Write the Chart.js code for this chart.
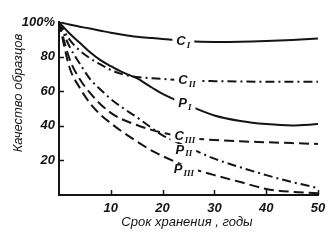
<!DOCTYPE html>
<html>
<head>
<meta charset="utf-8">
<script src="https://cdn.jsdelivr.net/npm/chart.js@4.4.0/dist/chart.umd.min.js"></script>
<style>
  html, body { margin: 0; padding: 0; background: #fff; }
</style>
</head>
<body>
<canvas id="chart" width="334" height="240"></canvas>
<script>
// Срок хранения, годы
const years = [0, 2, 4, 6, 8, 10, 12, 15, 18, 20, 25, 30, 35, 40, 45, 50];

// Качество образцов, %
const cI   = [100, 98.5, 97.3, 96.2, 95, 93.8, 92.8, 91.5, 90.7, 90.2, 88.9, 88.5, 88.6, 89, 89.6, 90.4];
const cII  = [100, 90, 83.5, 79, 75.5, 72.3, 70, 68.2, 67.5, 67.1, 66.2, 65.8, 65.6, 65.5, 65.5, 65.5];
const pI   = [100, 93.5, 88, 82.5, 78, 74.5, 71.3, 67.5, 62, 58.5, 51.8, 46, 42.8, 41, 40.2, 41];
const cIII = [100, 79, 67, 59, 52.5, 47.5, 44, 40.5, 37.5, 36, 33, 31.8, 31, 30.5, 30, 29.5];
const pII  = [100, 86, 76, 67, 61, 55.5, 51, 45, 38.5, 34.5, 27.5, 21, 16, 11.5, 7.5, 4];
const pIII = [100, 74, 62, 53, 46.5, 41.5, 37, 31, 25.5, 22.5, 16, 11.5, 7.5, 3.5, 1.8, 1];

const xTicks = [10, 20, 30, 40, 50];
const yTicks = [20, 40, 60, 80, 100];
const yTickLabels = ['20', '40', '60', '80', '100%'];

const xTitle = 'Срок хранения , годы';
const yTitle = 'Качество образцов';

// подписи кривых: буква, индекс, точка (год, %)
const curveLetters = ['C', 'C', 'P', 'C', 'P', 'P'];
const curveIndex = ['I', 'II', 'I', 'III', 'II', 'III'];
const labelYears = [24, 24.7, 24.3, 24.3, 24.1, 24.1];
const labelValues = [88.7, 66, 52.7, 34, 26, 14.5];

const INK = '#141414';
const solid = [];
const dashDot = [9, 4, 2, 4];
const longDash = [10, 5];

function series(values, dash) {
    return {
        data: years.map((x, i) => ({ x: x, y: values[i] })),
        borderColor: INK,
        borderWidth: 2,
        borderDash: dash,
        pointRadius: 0,
        cubicInterpolationMode: 'monotone',
        fill: false
    };
}

const tickFont = { family: "'Liberation Sans Narrow', 'Liberation Sans'", style: 'italic', weight: 'bold', size: 13 };

// Засечки внутрь, подписи кривых и названия осей
const extras = {
    id: 'extras',
    afterDatasetsDraw(chart) {
        const { ctx, chartArea, scales: { x, y } } = chart;
        ctx.save();
        ctx.strokeStyle = INK;
        ctx.lineWidth = 1.5;
        xTicks.forEach(v => {
            const px = Math.round(x.getPixelForValue(v)) + 0.5;
            ctx.beginPath();
            ctx.moveTo(px, chartArea.bottom);
            ctx.lineTo(px, chartArea.bottom - 5);
            ctx.stroke();
        });
        yTicks.filter(v => v < 100).forEach(v => {
            const py = Math.round(y.getPixelForValue(v)) + 0.5;
            ctx.beginPath();
            ctx.moveTo(chartArea.left, py);
            ctx.lineTo(chartArea.left + 5, py);
            ctx.stroke();
        });

        // подписи кривых
        ctx.textBaseline = 'middle';
        curveLetters.forEach((letter, i) => {
            const px = x.getPixelForValue(labelYears[i]);
            const py = y.getPixelForValue(labelValues[i]);
            ctx.font = "italic bold 13px 'Liberation Sans Narrow', 'Liberation Sans'";
            const w1 = ctx.measureText(letter).width;
            ctx.font = "italic bold 9px 'Liberation Serif', serif";
            const w2 = ctx.measureText(curveIndex[i]).width;
            const w = w1 + w2 + 1;
            ctx.fillStyle = '#fff';
            ctx.fillRect(px - w / 2 - 4, py - 6, w + 8, 12);
            ctx.fillStyle = INK;
            ctx.textAlign = 'left';
            ctx.font = "italic bold 13px 'Liberation Sans Narrow', 'Liberation Sans'";
            ctx.fillText(letter, px - w / 2, py);
            ctx.font = "italic bold 9px 'Liberation Serif', serif";
            ctx.fillText(curveIndex[i], px - w / 2 + w1 + 1, py + 4);
        });

        // названия осей
        ctx.font = "italic 13px 'Liberation Sans Narrow', 'Liberation Sans'";
        ctx.textAlign = 'center';
        ctx.fillText(xTitle, 187, 222);
        ctx.translate(18, 93);
        ctx.rotate(-Math.PI / 2);
        ctx.fillText(yTitle, 0, 0);
        ctx.restore();
    }
};

new Chart(document.getElementById('chart'), {
    type: 'line',
    data: {
        datasets: [
            series(cI, solid),
            series(cII, dashDot),
            series(pI, solid),
            series(cIII, longDash),
            series(pII, dashDot),
            series(pIII, longDash)
        ]
    },
    options: {
        responsive: false,
        animation: false,
        events: [],
        layout: { padding: { top: 22, right: 16, left: 0, bottom: 0 } },
        plugins: { legend: { display: false }, tooltip: { enabled: false } },
        scales: {
            x: {
                type: 'linear',
                min: 0,
                max: 50,
                afterFit: s => { s.height = 45; },
                afterBuildTicks: s => { s.ticks = xTicks.map(v => ({ value: v })); },
                grid: { display: false, drawTicks: false },
                border: { display: true, color: INK, width: 2 },
                ticks: {
                    color: INK,
                    font: tickFont,
                    padding: 6,
                    maxRotation: 0,
                    autoSkip: false,
                    callback: v => String(v)
                }
            },
            y: {
                type: 'linear',
                min: 0,
                max: 100,
                afterFit: s => { s.width = 59; },
                afterBuildTicks: s => { s.ticks = yTicks.map(v => ({ value: v })); },
                grid: { display: false, drawTicks: false },
                border: { display: true, color: INK, width: 2 },
                ticks: {
                    color: INK,
                    font: tickFont,
                    padding: 4,
                    autoSkip: false,
                    callback: v => yTickLabels[yTicks.indexOf(v)]
                }
            }
        }
    },
    plugins: [extras]
});
</script>
</body>
</html>
